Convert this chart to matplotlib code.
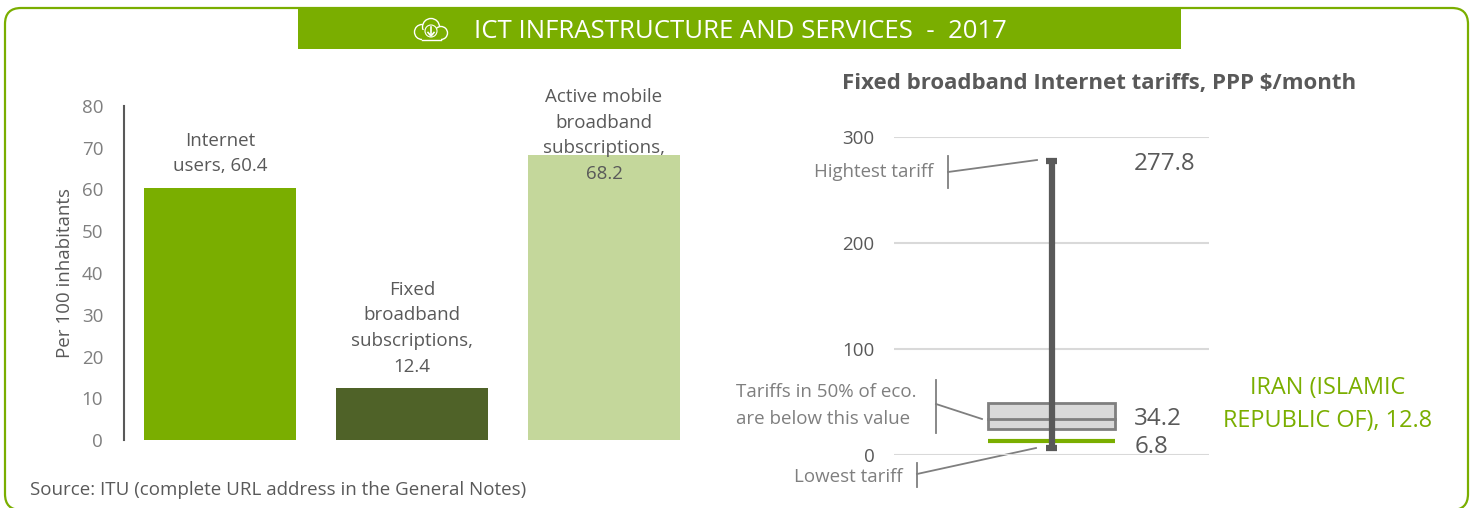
import matplotlib
matplotlib.use('Agg')
import matplotlib.pyplot as plt
from matplotlib.patches import FancyBboxPatch, Rectangle, Circle

plt.rcParams['font.family'] = ['Open Sans', 'DejaVu Sans']

W, H = 1477, 508
GREEN = '#7AAE00'
DARK = '#4F6228'
LIGHT = '#C4D79B'
TXT = '#595959'
GREY = '#7F7F7F'

# left chart
bar_labels = ['Internet\nusers, 60.4', 'Fixed\nbroadband\nsubscriptions,\n12.4',
              'Active mobile\nbroadband\nsubscriptions,\n68.2']
bar_values = [60.4, 12.4, 68.2]
bar_colors = [GREEN, DARK, LIGHT]
left_ticks = [0, 10, 20, 30, 40, 50, 60, 70, 80]

# right chart
tariff_ticks = [0, 100, 200, 300]
tariff_low = 6.8
tariff_high = 277.8
tariff_q1 = 24.5
tariff_median = 34.2
tariff_q3 = 49
iran_value = 12.8


def axes_px(x0, y_top, x1, y_bottom):
    return fig.add_axes([x0 / W, 1 - y_bottom / H, (x1 - x0) / W, (y_bottom - y_top) / H])


fig = plt.figure(figsize=(W / 100, H / 100), dpi=100, facecolor='white')

# overlay in pixel coords for frame, header and callouts
bg = fig.add_axes([0, 0, 1, 1])
bg.set_xlim(0, W)
bg.set_ylim(H, 0)
bg.axis('off')
bg.add_patch(FancyBboxPatch((5, 8), 1463, 502, boxstyle='round,pad=0,rounding_size=16',
                            fc='white', ec=GREEN, lw=1.6))
bg.add_patch(Rectangle((298, 8), 883, 41, fc=GREEN, ec='none'))
bg.text(740, 31, 'ICT INFRASTRUCTURE AND SERVICES  -  2017', color='white', fontsize=18.5,
        ha='center', va='center')

# cloud icon
for c in [(422, 32, 7.5), (431, 27, 8.5), (441, 33, 6.5)]:
    bg.add_patch(Circle(c[:2], c[2], fc=GREEN, ec='white', lw=1))
bg.add_patch(Rectangle((422, 30), 19, 10, fc=GREEN, ec='none'))
bg.plot([422, 441], [39.5, 39.5], color='white', lw=1)
bg.add_patch(Circle((431, 31), 6, fc=GREEN, ec='white', lw=0.8))
bg.plot([431, 431], [27, 35], color='white', lw=1.2)
bg.plot([428, 431, 434], [32.5, 36, 32.5], color='white', lw=1.2)

# bars
ax = axes_px(124, 106, 700, 440)
ax.patch.set_alpha(0)
ax.bar(range(3), bar_values, width=0.79, color=bar_colors)
ax.set_xlim(-0.5, 2.5)
ax.set_ylim(0, 80)
ax.set_xticks([])
ax.set_yticks(left_ticks)
ax.tick_params(axis='y', length=0, pad=15, labelsize=13.5, labelcolor=GREY)
ax.set_ylabel('Per 100 inhabitants', fontsize=13.5, color=TXT)
ax.yaxis.set_label_coords(-0.087, 0.5)
for s in ['top', 'right', 'bottom']:
    ax.spines[s].set_visible(False)
ax.spines['left'].set_color(TXT)
ax.spines['left'].set_linewidth(1.5)
label_offsets = [9, 9, -20]  # third label runs into its bar in the original
for i, v in enumerate(bar_values):
    ax.annotate(bar_labels[i], (i, v), xytext=(0, label_offsets[i]), textcoords='offset points',
                ha='center', va='bottom', fontsize=13.5, color=TXT, linespacing=1.55,
                annotation_clip=False)

# tariff box
ax2 = axes_px(894, 137, 1209, 455)
ax2.patch.set_alpha(0)
ax2.set_xlim(-1, 1)
ax2.set_ylim(0, 300)
ax2.set_xticks([])
ax2.set_yticks(tariff_ticks)
ax2.tick_params(axis='y', length=0, pad=14, labelsize=13.5, labelcolor=TXT)
ax2.grid(axis='y', color='#D9D9D9', lw=1.5)
ax2.set_axisbelow(True)
for s in ax2.spines.values():
    s.set_visible(False)
box_hw = 0.403
ax2.add_patch(Rectangle((-box_hw, tariff_q1), 2 * box_hw, tariff_q3 - tariff_q1, fc='#D9D9D9',
                        ec=GREY, lw=2, zorder=3))
ax2.plot([-box_hw, box_hw], [tariff_median, tariff_median], color=GREY, lw=2, zorder=4)
ax2.plot([-box_hw, box_hw], [iran_value, iran_value], color=GREEN, lw=3, zorder=4,
         solid_capstyle='butt')
ax2.plot([0, 0], [tariff_low, tariff_high], color=TXT, lw=4.5, zorder=5, solid_capstyle='butt')
for v in (tariff_low, tariff_high):
    ax2.plot([-0.038, 0.038], [v, v], color=TXT, lw=4.5, zorder=5, solid_capstyle='butt')

ax2.text(0.525, tariff_high - 3.5, '277.8', fontsize=17.4, color=TXT, va='center', ha='left', clip_on=False)
ax2.text(0.525, tariff_median, '34.2', fontsize=17.4, color=TXT, va='center', ha='left', clip_on=False)
ax2.text(0.525, tariff_low + 1, '6.8', fontsize=17.4, color=TXT, va='center', ha='left', clip_on=False)

bg.text(1099.5, 84, 'Fixed broadband Internet tariffs, PPP $/month', fontsize=16, fontweight='bold',
        color=TXT, ha='center', va='center')
bg.text(1328, 404.5, 'IRAN (ISLAMIC\nREPUBLIC OF), 12.8', fontsize=16.9, color=GREEN, ha='center',
        va='center', linespacing=1.54)

# callouts
bg.text(874, 172, 'Hightest tariff', fontsize=13.4, color=GREY, ha='center', va='center')
bg.text(736, 405.5, 'Tariffs in 50% of eco.\nare below this value', fontsize=13.5, color=GREY, ha='left',
        va='center', linespacing=1.6)
bg.text(848, 477, 'Lowest tariff', fontsize=13.5, color=GREY, ha='center', va='center')
for xs, ys in [([948, 948], [156, 188]), ([948, 1037], [172, 160]),
               ([936, 936], [380, 433]), ([936, 982], [404, 419]),
               ([917, 917], [463, 487]), ([917, 1036], [474, 448])]:
    bg.plot(xs, ys, color=GREY, lw=1.3)

bg.text(30, 490, 'Source: ITU (complete URL address in the General Notes)', fontsize=13.5, color=TXT,
        ha='left', va='center')

fig.savefig('out.png', dpi=100)
